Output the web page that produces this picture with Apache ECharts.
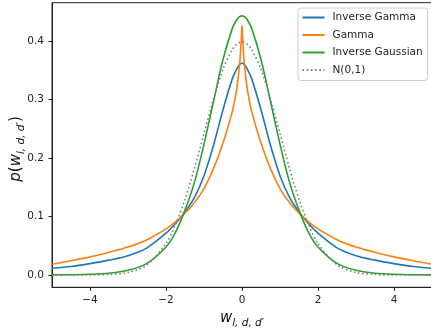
<!DOCTYPE html>
<html>
<head>
<meta charset="utf-8">
<script src="https://cdn.jsdelivr.net/npm/echarts@6/dist/echarts.min.js"></script>
<style>
  html, body { margin: 0; padding: 0; background: #fff; }
  #chart { width: 431px; height: 328px; }
</style>
</head>
<body>
<div id="chart"></div>
<script>
const xs = [-5, -4.5, -4, -3.5, -3, -2.5, -2, -1.75, -1.5, -1.25, -1, -0.75, -0.5, -0.25, -0.15, -0.1, -0.05, -0.02, -0.01,
  0, 0.01, 0.02, 0.05, 0.1, 0.15, 0.25, 0.5, 0.75, 1, 1.25, 1.5, 1.75, 2, 2.5, 3, 3.5, 4, 4.5, 5];

const inverseGamma = [0.0115, 0.0145, 0.0195, 0.0255, 0.033, 0.0465, 0.0715, 0.088, 0.108, 0.133, 0.170, 0.222, 0.283, 0.337, 0.351, 0.357, 0.361, 0.3623, 0.3625,
  0.3625, 0.3625, 0.3623, 0.361, 0.357, 0.351, 0.337, 0.283, 0.222, 0.170, 0.133, 0.108, 0.088, 0.0715, 0.0465, 0.033, 0.0255, 0.0195, 0.0145, 0.0115];

const gamma = [0.0185, 0.0245, 0.031, 0.039, 0.048, 0.0605, 0.079, 0.091, 0.106, 0.124, 0.148, 0.182, 0.226, 0.281, 0.314, 0.338, 0.371, 0.402, 0.414,
  0.427, 0.414, 0.402, 0.371, 0.338, 0.314, 0.281, 0.226, 0.182, 0.148, 0.124, 0.106, 0.091, 0.079, 0.0605, 0.048, 0.039, 0.031, 0.0245, 0.0185];

const inverseGaussian = [0.0002, 0.0005, 0.0012, 0.003, 0.008, 0.020, 0.048, 0.073, 0.111, 0.159, 0.224, 0.297, 0.369, 0.423, 0.4356, 0.4398, 0.4426, 0.4433, 0.4435,
  0.4435, 0.4435, 0.4433, 0.4426, 0.4398, 0.4356, 0.423, 0.369, 0.297, 0.224, 0.159, 0.111, 0.073, 0.048, 0.020, 0.008, 0.003, 0.0012, 0.0005, 0.0002];

const normal = [0, 0, 0.0001, 0.0009, 0.0044, 0.0175, 0.054, 0.0863, 0.1295, 0.1826, 0.242, 0.3011, 0.3521, 0.3867, 0.3945, 0.397, 0.3984, 0.3988, 0.3989,
  0.3989, 0.3989, 0.3988, 0.3984, 0.397, 0.3945, 0.3867, 0.3521, 0.3011, 0.242, 0.1826, 0.1295, 0.0863, 0.054, 0.0175, 0.0044, 0.0009, 0.0001, 0, 0];

const xTicks = [-4, -2, 0, 2, 4];
const yTicks = [0, 0.1, 0.2, 0.3, 0.4];

const pairs = vals => xs.map((x, i) => [x, vals[i]]);

const chart = echarts.init(document.getElementById('chart'), null, { renderer: 'canvas' });

const axisColor = '#222';
const nameRich = {
  i: { fontSize: 15, fontStyle: 'italic', fontFamily: 'DejaVu Sans', color: '#111', lineHeight: 22, verticalAlign: 'middle' },
  n: { fontSize: 15, fontFamily: 'DejaVu Sans', color: '#111', lineHeight: 22, verticalAlign: 'middle' },
  s: { fontSize: 10.5, fontStyle: 'italic', fontFamily: 'DejaVu Sans', color: '#111', lineHeight: 22, verticalAlign: 'bottom' }
};

const line = (name, vals, color, extra) => ({
  name,
  type: 'line',
  data: pairs(vals),
  symbol: 'none',
  smooth: 0.3,
  lineStyle: Object.assign({ color, width: 1.6 }, extra || {}),
  itemStyle: { color }
});

const option = {
  animation: false,
  textStyle: { fontFamily: 'DejaVu Sans' },
  grid: {
    left: 52, right: -1, top: 2.7, bottom: 40.7,
    containLabel: false,
    outerBoundsMode: 'none',
    show: true, borderColor: axisColor, borderWidth: 1
  },
  legend: {
    orient: 'vertical',
    left: 298,
    top: 8,
    itemWidth: 22,
    itemHeight: 10,
    itemGap: 6.5,
    padding: [4, 5, 5, 3.5],
    backgroundColor: 'rgba(255,255,255,0.85)',
    borderColor: '#ccc',
    borderWidth: 1,
    borderRadius: 3,
    itemStyle: { opacity: 0 },
    textStyle: { fontSize: 10.5, color: axisColor, padding: [0, 0, 0, 3] },
    data: ['Inverse Gamma', 'Gamma', 'Inverse Gaussian', 'N(0,1)']
  },
  xAxis: {
    type: 'value',
    min: -5,
    max: 5,
    name: '{i|w}{s|l, d, d′}',
    nameLocation: 'middle',
    nameGap: 17,
    nameTextStyle: { rich: nameRich },
    splitLine: { show: false },
    axisLine: { onZero: false, lineStyle: { color: axisColor, width: 1 } },
    axisTick: { customValues: xTicks, length: 3.5, lineStyle: { color: axisColor } },
    axisLabel: {
      customValues: xTicks,
      margin: 7,
      fontSize: 10.5,
      color: axisColor,
      formatter: v => (v < 0 ? '\u2212' + Math.abs(v) : String(v))
    }
  },
  yAxis: {
    type: 'value',
    min: -0.02105,
    max: 0.4661,
    name: '{i|p}{n|(}{i|w}{s|l, d, d′}{n|)}',
    nameLocation: 'middle',
    nameGap: 25,
    nameMoveOverlap: false,
    nameTextStyle: { rich: nameRich, padding: [0, 8, 0, 0] },
    splitLine: { show: false },
    axisLine: { show: true, onZero: false, lineStyle: { color: axisColor, width: 1 } },
    axisTick: { show: true, customValues: yTicks, length: 3.5, lineStyle: { color: axisColor } },
    axisLabel: {
      customValues: yTicks,
      margin: 8,
      fontSize: 10.5,
      color: axisColor,
      formatter: v => Number(v).toFixed(1)
    }
  },
  series: [
    line('Inverse Gamma', inverseGamma, '#1f77b4'),
    line('Gamma', gamma, '#ff7f0e'),
    line('Inverse Gaussian', inverseGaussian, '#2ca02c'),
    line('N(0,1)', normal, '#808080', { type: [1.6, 2.6] })
  ]
};

chart.setOption(option);
</script>
</body>
</html>
